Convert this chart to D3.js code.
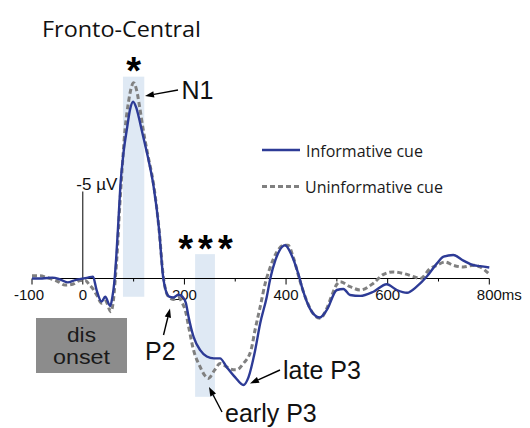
<!DOCTYPE html>
<html><head><meta charset="utf-8">
<script src="https://cdn.jsdelivr.net/npm/d3@7"></script>
<style>body{margin:0;background:#fff}svg{display:block}</style>
</head><body>
<svg id="c" width="530" height="428"></svg>
<script>
// ---- data (time in ms, amplitude in µV; negative plotted upward) ----
const timesInformative = [-100,-80,-60,-45,-30,-15,0,10,20,27,37,44,54,58,62,66,70,74,80,87,93,99,105,111,116,128,139,150,158,163,170,178,188,196,203,208,218,231,244,258,270,283,300,316,326,339,349,362,369,379,392,398,411,424,434,447,466,480,500,513,526,546,572,598,618,638,657,677,697,710,729,749,769,782,800];
const valuesInformative = [0,0,-0.05,0.05,0.22,0.09,0,-0.05,-0.11,0.65,1.33,1.05,1.58,1.1,0.22,-1.31,-3.28,-5.35,-7.2,-8.63,-9.72,-10.16,-9.83,-9.17,-8.52,-6.99,-5.35,-2.84,-0.11,0.66,1.04,1.09,0.93,1.04,1.42,2.18,3.35,4.12,4.48,4.59,4.59,5.08,5.68,6.12,5.68,4.15,2.59,1.06,0,-1.05,-1.81,-1.91,-1.34,-0.28,0.76,1.73,2.24,1.82,0.66,0.6,0.95,1.0,0.76,0.33,0.66,0.82,0.47,-0.11,-0.87,-1.26,-1.35,-1.03,-0.76,-0.71,-0.63];
const timesUninformative = [-100,-85,-70,-50,-35,-20,-5,5,12,20,28,37,45,55,60,64,68,72,76,83,90,96,100,106,112,119,128,139,150,158,163,170,178,188,196,203,208,218,231,240,247,260,270,283,296,303,316,331,339,349,359,369,382,395,404,414,427,440,453,467,480,490,500,506,526,546,572,591,611,631,651,664,684,697,713,729,749,769,782,800];
const valuesUninformative = [-0.16,-0.16,-0.05,0.16,0.38,0.33,0.11,0.11,0.33,0.6,0.98,1.42,1.31,1.91,1.31,0,-1.64,-3.82,-5.68,-8.52,-10.16,-11.03,-11.25,-10.81,-9.83,-8.52,-7.1,-5.46,-2.84,-0.22,0.66,1.09,1.2,1.09,1.42,1.97,2.73,4.12,5.08,5.57,5.74,5.24,4.88,5.08,5.24,5.24,4.88,4.12,2.95,1.64,0.28,-0.66,-1.53,-1.91,-1.91,-1.24,0.1,1.24,2.01,2.29,1.73,0.98,0.33,0.19,0.47,0.66,0.27,-0.22,-0.38,-0.29,-0.11,0,-0.58,-0.76,-0.95,-0.76,-0.66,-0.76,-0.66,-0.25];
const seriesNames = ["Informative cue","Uninformative cue"];
const majorTicks = [-100,0,200,400,600,800];
const minorTicks = [100,300,500,700];
const tickLabels = ["-100","0","200","400","600","800ms"];
const sigWindowStart = [79,221];
const sigWindowEnd = [121,260];
const sigWindowTop = [-11.6,-1.4];
const sigWindowBottom = [1.05,6.8];
const sigMarks = ["*","***"];
const scaleBarValue = -5;

// ---- layout ----
const svg = d3.select("#c");
const x = d3.scaleLinear().domain([-100,800]).range([32,489.3]);
const y = d3.scaleLinear().domain([0,-5]).range([278.5,191.5]);
const blue = "#2d3b96", grey = "#808080";
const sans = "'Liberation Sans', Arial, sans-serif";
const myriad = "'Open Sans', 'Noto Sans', sans-serif";

// significance windows
svg.selectAll("rect.sig").data(sigWindowStart).join("rect").attr("class","sig")
  .attr("x",(d,i)=>x(d)).attr("width",(d,i)=>x(sigWindowEnd[i])-x(d))
  .attr("y",(d,i)=>y(sigWindowTop[i])).attr("height",(d,i)=>y(sigWindowBottom[i])-y(sigWindowTop[i]))
  .attr("fill","#dfe9f4");

// title
svg.append("text").attr("x",42).attr("y",36.5).attr("font-family",myriad).attr("font-size",22)
  .attr("textLength",159).attr("lengthAdjust","spacingAndGlyphs").attr("fill","#111").text("Fronto-Central");

// x axis
svg.append("line").attr("x1",x(-100)).attr("x2",x(800)).attr("y1",y(0)).attr("y2",y(0)).attr("stroke","#000").attr("stroke-width",1);
svg.selectAll("line.maj").data(majorTicks).join("line").attr("class","maj")
  .attr("x1",d=>x(d)).attr("x2",d=>x(d)).attr("y1",y(0)).attr("y2",y(0)+6).attr("stroke","#000");
svg.selectAll("line.min").data(minorTicks).join("line").attr("class","min")
  .attr("x1",d=>x(d)).attr("x2",d=>x(d)).attr("y1",y(0)).attr("y2",y(0)+3).attr("stroke","#000");
svg.selectAll("text.tl").data(majorTicks).join("text").attr("class","tl")
  .attr("x",(d,i)=> i===tickLabels.length-1 ? x(d)-12.5 : x(d)+(d<0?-3:0))
  .attr("y",300).attr("text-anchor",(d,i)=> i===tickLabels.length-1 ? "start":"middle")
  .attr("font-family",sans).attr("font-size",15).attr("fill","#111").text((d,i)=>tickLabels[i]);

// y scale bar
svg.append("line").attr("x1",x(0)).attr("x2",x(0)).attr("y1",y(0)).attr("y2",y(scaleBarValue)).attr("stroke","#000");
svg.append("text").attr("x",x(0)-6.5).attr("y",190).attr("font-family",sans).attr("font-size",17)
  .attr("fill","#111").text("-5 µV");

// dis onset box
svg.append("rect").attr("x",36).attr("y",318).attr("width",91).attr("height",55).attr("fill","#8c8c8c");
svg.append("text").attr("x",81.5).attr("y",341.5).attr("text-anchor","middle").attr("font-family",sans).attr("font-size",20)
  .attr("textLength",29).attr("lengthAdjust","spacingAndGlyphs").attr("fill","#1a1a1a").text("dis");
svg.append("text").attr("x",81.5).attr("y",364).attr("text-anchor","middle").attr("font-family",sans).attr("font-size",20)
  .attr("textLength",57).attr("lengthAdjust","spacingAndGlyphs").attr("fill","#1a1a1a").text("onset");

// curves
const line = d3.line().x(d=>x(d[0])).y(d=>y(d[1])).curve(d3.curveMonotoneX);
const dUninf = timesUninformative.map((t,i)=>[t,valuesUninformative[i]]);
const dInf = timesInformative.map((t,i)=>[t,valuesInformative[i]]);
svg.append("path").attr("d",line(dUninf)).attr("fill","none").attr("stroke",grey).attr("stroke-width",3).attr("stroke-dasharray","5,3");
svg.append("path").attr("d",line(dInf)).attr("fill","none").attr("stroke",blue).attr("stroke-width",2.4);

// significance stars
svg.selectAll("text.star").data(sigMarks).join("text").attr("class","star")
  .attr("x",(d,i)=>(x(sigWindowStart[i])+x(sigWindowEnd[i]))/2 + (i===1?3:0))
  .attr("y",(d,i)=> i===0 ? 84 : 262).attr("text-anchor","middle")
  .attr("font-family",sans).attr("font-weight","bold").attr("font-size",38)
  .attr("letter-spacing",(d,i)=> i===1 ? 5 : 0).attr("fill","#000").text(d=>d);

// legend
svg.append("line").attr("x1",262).attr("x2",300).attr("y1",150).attr("y2",150).attr("stroke",blue).attr("stroke-width",2.5);
svg.append("line").attr("x1",262).attr("x2",300).attr("y1",186.5).attr("y2",186.5).attr("stroke",grey).attr("stroke-width",3).attr("stroke-dasharray","5,3");
svg.append("text").attr("x",306).attr("y",157).attr("font-family",myriad).attr("font-size",16).attr("fill","#1a1a1a").text(seriesNames[0]);
svg.append("text").attr("x",305).attr("y",193).attr("font-family",myriad).attr("font-size",16).attr("fill","#1a1a1a").text(seriesNames[1]);

// annotations with arrows
function arrow(x1,y1,x2,y2){
  const a = Math.atan2(y2-y1,x2-x1), L=9, W=3.2;
  const bx = x2 - L*Math.cos(a), by = y2 - L*Math.sin(a);
  svg.append("line").attr("x1",x1).attr("y1",y1).attr("x2",bx).attr("y2",by).attr("stroke","#000").attr("stroke-width",1.4);
  const px = -Math.sin(a)*W, py = Math.cos(a)*W;
  svg.append("path").attr("d",`M${x2},${y2}L${bx+px},${by+py}L${bx-px},${by-py}Z`).attr("fill","#000");
}
const labels = [
  {t:"N1", x:181.5, y:99, ax:[178,90,145,96]},
  {t:"P2", x:145, y:360, ax:[163.5,335,170,308.5]},
  {t:"late P3", x:283, y:378.5, ax:[280,370,250,383.5]},
  {t:"early P3", x:225, y:421.5, ax:[222,412,209,387]}
];
labels.forEach(l=>{
  arrow(...l.ax);
  svg.append("text").attr("x",l.x).attr("y",l.y).attr("font-family",sans).attr("font-size",25).attr("fill","#111").text(l.t);
});
</script>
</body></html>
